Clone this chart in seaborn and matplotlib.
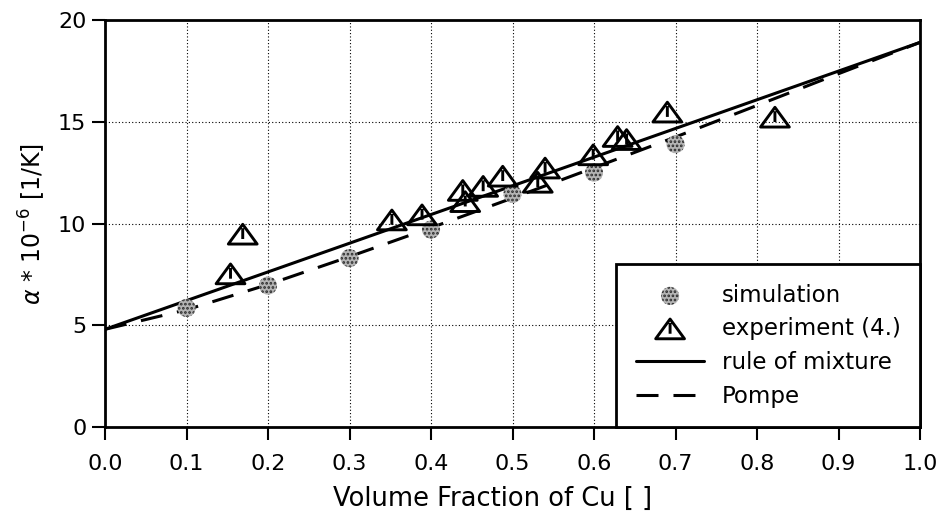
import numpy as np
import pandas as pd
import matplotlib
matplotlib.use("Agg")
import matplotlib.pyplot as plt
from matplotlib.path import Path
from matplotlib.markers import MarkerStyle
import seaborn as sns

# ---- data ----
sim_x = [0.1, 0.2, 0.3, 0.4, 0.5, 0.6, 0.7]
sim_y = [5.85, 6.95, 8.3, 9.7, 11.45, 12.5, 13.9]

exp_x = [0.154, 0.169, 0.352, 0.389, 0.439, 0.442, 0.464, 0.488, 0.531, 0.540,
         0.599, 0.629, 0.640, 0.690, 0.822]
exp_y = [7.5, 9.45, 10.15, 10.4, 11.6, 11.05, 11.8, 12.3, 12.0, 12.7,
         13.35, 14.25, 14.1, 15.45, 15.2]

rom_x = [0.0, 1.0]
rom_y = [4.8, 18.9]

pompe_x = [0.0, 0.1, 0.2, 0.3, 0.4, 0.5, 0.6, 0.7, 0.8, 0.9, 1.0]
pompe_y = [4.8, 5.76, 7.0, 8.37, 9.79, 11.25, 12.74, 14.25, 15.8, 17.36, 18.9]

x_ticks = [0.0, 0.1, 0.2, 0.3, 0.4, 0.5, 0.6, 0.7, 0.8, 0.9, 1.0]
y_ticks = [0, 5, 10, 15, 20]

# ---- style ----
sns.set_theme(style="ticks")
plt.rcParams["font.family"] = ["DejaVu Sans"]
plt.rcParams["mathtext.fontset"] = "dejavusans"
plt.rcParams["text.color"] = "black"
plt.rcParams["axes.labelcolor"] = "black"
plt.rcParams["xtick.color"] = "black"
plt.rcParams["ytick.color"] = "black"
plt.rcParams["hatch.linewidth"] = 1.3

fig = plt.figure(figsize=(9.39, 5.18), dpi=100)
ax = fig.add_axes([105 / 939, 1 - 427 / 518, (920 - 105) / 939, (427 - 20) / 518])

# grid (dotted)
ax.set_axisbelow(True)
ax.grid(True, color="black", linestyle=(0, (1, 2)), linewidth=0.8)

# lines
sns.lineplot(x=rom_x, y=rom_y, ax=ax, color="black", linewidth=2.2,
             label="rule of mixture")
sns.lineplot(x=pompe_x, y=pompe_y, ax=ax, color="black", linewidth=2.2,
             linestyle=(0, (7.2, 4.9)), label="Pompe")

# simulation markers (stippled grey discs)
sns.scatterplot(x=sim_x, y=sim_y, ax=ax, marker="o", s=170,
                facecolor="#b4b4b4", edgecolor="#2a2a2a", hatch="....",
                linewidth=0, label="simulation", zorder=3)

# experiment markers: triangle with inner vertical stroke
verts = [(-1, -0.65), (1, -0.65), (0, 0.72), (-1, -0.65),
         (0, -0.3), (0, 0.45)]
codes = [Path.MOVETO, Path.LINETO, Path.LINETO, Path.CLOSEPOLY,
         Path.MOVETO, Path.LINETO]
tri = MarkerStyle(Path(verts, codes))
sns.scatterplot(x=exp_x, y=exp_y, ax=ax, marker=tri, s=430,
                facecolor="none", edgecolor="black", linewidth=2.1,
                label="experiment (4.)", zorder=4)

# axes
ax.set_xlim(0, 1)
ax.set_ylim(0, 20)
ax.set_xticks(x_ticks)
ax.set_xticklabels([f"{v:.1f}" for v in x_ticks])
ax.set_yticks(y_ticks)
ax.set_yticklabels([str(v) for v in y_ticks])
for s in ax.spines.values():
    s.set_visible(True)
    s.set_linewidth(2.0)
    s.set_color("black")
ax.tick_params(axis="both", direction="out", length=9.5, width=1.5,
               colors="black", labelsize=16)
ax.tick_params(axis="x", pad=10)
ax.tick_params(axis="y", pad=4)

ax.set_xlabel("Volume Fraction of Cu [ ]", fontsize=18.5)
ax.xaxis.set_label_coords(0.475, -0.145)
ax.set_ylabel(r"$\alpha$ * 10$^{-6}$ [1/K]", fontsize=17, labelpad=7)

# legend
h, l = ax.get_legend_handles_labels()
order = ["simulation", "experiment (4.)", "rule of mixture", "Pompe"]
hd = dict(zip(l, h))
leg = ax.legend([hd[k] for k in order], order, loc="lower right",
                bbox_to_anchor=(1, 0), borderaxespad=0, fontsize=16.5,
                frameon=True, fancybox=False, edgecolor="black",
                framealpha=1, handlelength=3.0, handletextpad=0.75,
                labelspacing=0.46, borderpad=0.85, markerscale=1.0)
leg.get_frame().set_linewidth(2.0)

fig.savefig("out.png", dpi=100)
